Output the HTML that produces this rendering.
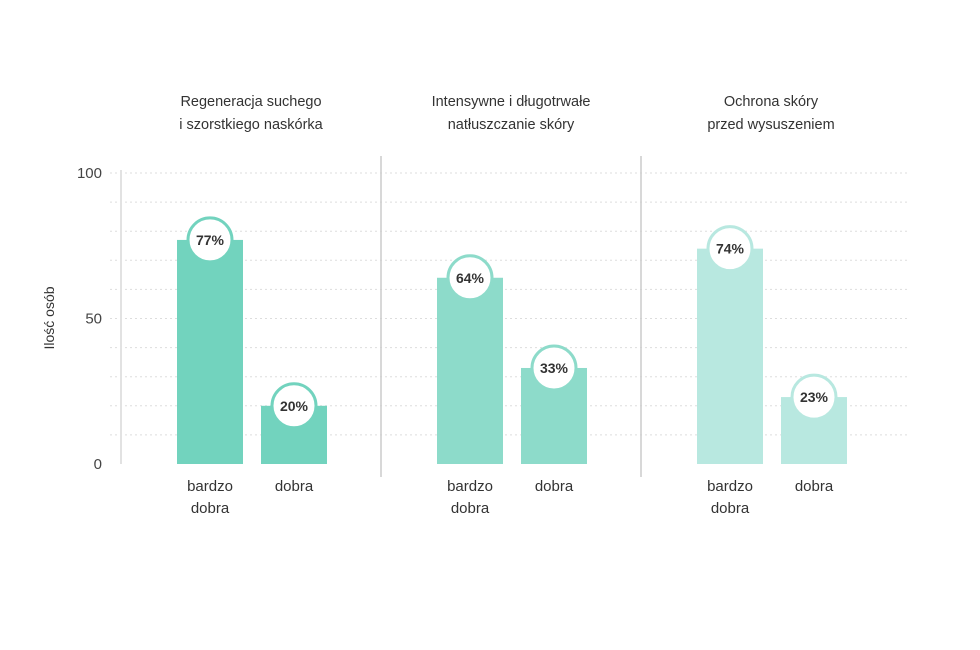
<!DOCTYPE html>
<html><head><meta charset="utf-8"><style>
body{margin:0;background:#fff;width:980px;height:645px;overflow:hidden;font-family:"Liberation Sans",sans-serif}
</style></head><body>
<svg id="chart" width="980" height="645" xmlns="http://www.w3.org/2000/svg"></svg>
<script>
const groups=["Regeneracja suchego|i szorstkiego naskórka","Intensywne i długotrwałe|natłuszczanie skóry","Ochrona skóry|przed wysuszeniem"];
const categories=["bardzo|dobra","dobra"];
const values=[[77,20],[64,33],[74,23]];
const yTicks=[0,50,100];
const colors=["#72d3be","#8ddbca","#b8e8e0"];
const svg=document.getElementById('chart');
const NS="http://www.w3.org/2000/svg";
function y(v){return 464-v*2.91;}
const groupX=[121,381,641];
function mk(t,a,p){const e=document.createElementNS(NS,t);for(const k in a)e.setAttribute(k,a[k]);(p||svg).appendChild(e);return e;}
for(let v=10;v<=100;v+=10){
 const g=mk('line',{x1:110,x2:910,y1:y(v),y2:y(v),stroke:'#ddd','stroke-dasharray':'2,3','stroke-width':1});
 
 
}
const ax=mk('line',{x1:121,x2:121,y1:170,y2:464,stroke:'#e2e2e2','stroke-width':2});


[381,641].forEach(x=>{const s=mk('line',{x1:x,x2:x,y1:156,y2:477,stroke:'#ccc','stroke-width':1.5});
 
 });
yTicks.forEach(v=>{const t=mk('text',{x:102,y:y(v)+5,'text-anchor':'end','font-size':15,fill:'#444'});t.textContent=v;
 
 });
const yt=mk('text',{transform:'translate(54,318) rotate(-90)','text-anchor':'middle','font-size':14,fill:'#333'});yt.textContent='Ilość osób';


groups.forEach((gname,gi)=>{
 const gx=groupX[gi];
 const lines=gname.split('|');
 lines.forEach((l,li)=>{const t=mk('text',{x:gx+130,y:106+li*23,'text-anchor':'middle','font-size':14.5,fill:'#333'});t.textContent=l;
  
  });
 values[gi].forEach((v,bi)=>{
  const bx=gx+56+bi*84, bw=66, cx=bx+bw/2;
  const r=mk('rect',{x:bx,y:y(v),width:bw,height:464-y(v),fill:colors[gi]});
  
  
  const c=mk('circle',{cx:cx,cy:y(v),r:22,fill:'#fff',stroke:colors[gi],'stroke-width':3});
  
  
  const t=mk('text',{x:cx,y:y(v)+5,'text-anchor':'middle','font-size':14,'font-weight':'bold',fill:'#333'});t.textContent=v+'%';
  
  
  categories[bi].split('|').forEach((l,li)=>{const ct=mk('text',{x:cx,y:491+li*22,'text-anchor':'middle','font-size':15,fill:'#333'});ct.textContent=l;
   
   });
 });
});
</script>
</body></html>
